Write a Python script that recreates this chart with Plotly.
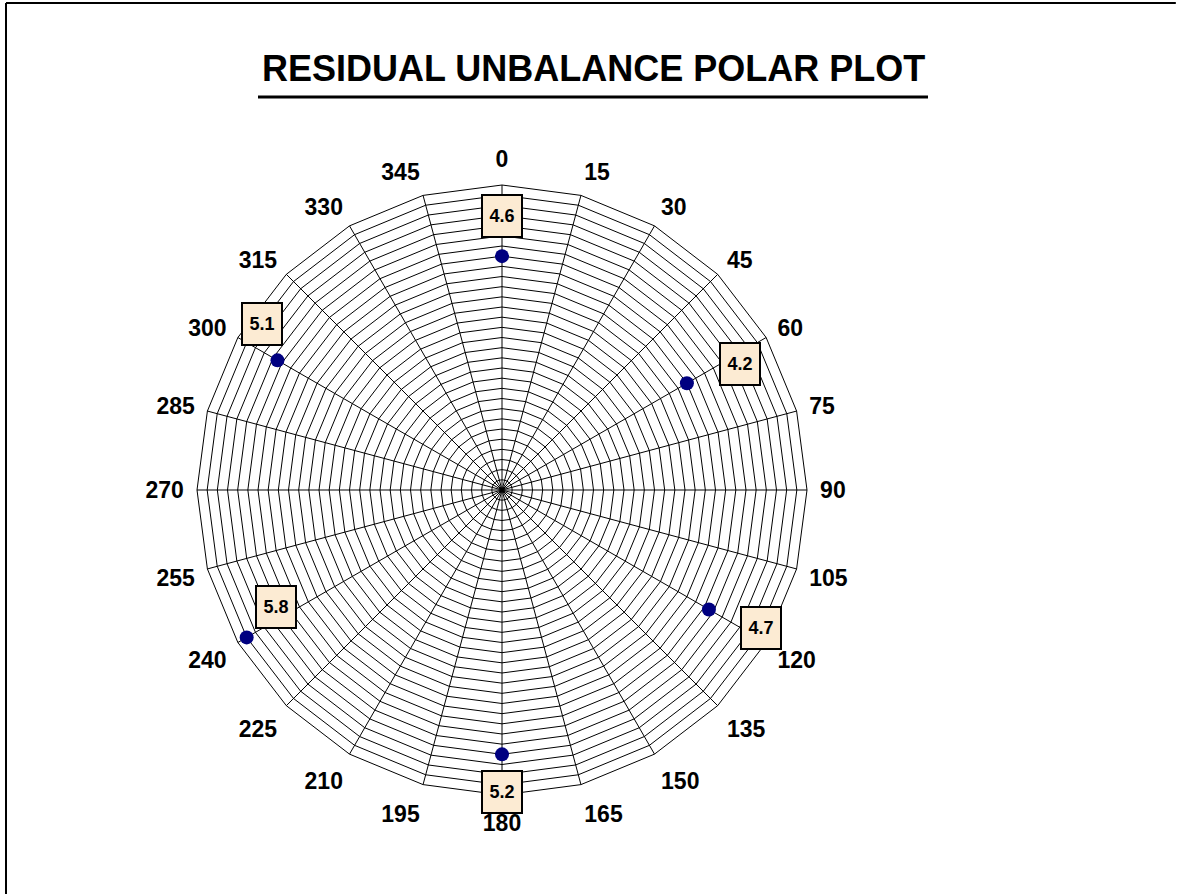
import math
import plotly.graph_objects as go

# ---- data ----
angle_categories = [str(a) for a in range(0, 360, 15)]
point_angles = ["0", "60", "120", "180", "240", "300"]
point_values = [4.6, 4.2, 4.7, 5.2, 5.8, 5.1]
point_labels = ["4.6", "4.2", "4.7", "5.2", "5.8", "5.1"]
radial_max = 6.0
radial_step = 0.2

# ---- layout constants ----
W, H = 1177, 894
CX, CY, R = 502, 490, 305  # polar centre and radius in px
label_dx = [0, 53, 52, 0, 29, -15]
label_dy = [-40, -19, 19, 38, -30, -36]

dom_x = [(CX - R) / W, (CX + R) / W]
dom_y = [(H - CY - R) / H, (H - CY + R) / H]

fig = go.Figure()
# invisible trace to establish all angular categories
fig.add_trace(go.Scatterpolar(r=[0] * len(angle_categories), theta=angle_categories,
                              mode="markers", marker=dict(size=1, opacity=0),
                              hoverinfo="skip", showlegend=False))
fig.add_trace(go.Scatterpolar(r=point_values, theta=point_angles, mode="markers",
                              marker=dict(size=14, color="#000080"),
                              showlegend=False))

annotations = []
n = len(angle_categories)
for th, v, lab, dx, dy in zip(point_angles, point_values, point_labels, label_dx, label_dy):
    idx = angle_categories.index(th)
    ang = math.radians(idx * 360 / n)
    px = CX + v / radial_max * R * math.sin(ang)
    py = CY - v / radial_max * R * math.cos(ang)
    annotations.append(dict(
        x=(px + dx) / W, y=1 - (py + dy) / H, xref="paper", yref="paper",
        text="<b>" + lab + "</b>", showarrow=False,
        font=dict(family="Arial, Liberation Sans", size=18, color="black"),
        bgcolor="#FCEBD3", bordercolor="black", borderwidth=2,
        width=34, height=36, borderpad=2, xanchor="center", yanchor="middle"))

annotations.append(dict(
    x=593 / W, y=1 - 68 / H, xref="paper", yref="paper",
    text="<b>RESIDUAL UNBALANCE POLAR PLOT</b>", showarrow=False,
    font=dict(family="Arial, Liberation Sans", size=36, color="black"),
    xanchor="center", yanchor="middle"))

shapes = [
    # title underline
    dict(type="line", xref="paper", yref="paper", x0=258 / W, x1=928 / W,
         y0=1 - 97 / H, y1=1 - 97 / H, line=dict(color="black", width=3)),
    # outer frame: top and left edges (others fall outside the picture)
    dict(type="line", xref="paper", yref="paper", x0=6 / W, x1=0.999,
         y0=1 - 3 / H, y1=1 - 3 / H, line=dict(color="black", width=2)),
    dict(type="line", xref="paper", yref="paper", x0=6 / W, x1=6 / W,
         y0=0.0, y1=1 - 3 / H, line=dict(color="black", width=2)),
]

fig.update_layout(
    width=W, height=H,
    margin=dict(l=0, r=0, t=0, b=0),
    paper_bgcolor="white",
    annotations=annotations,
    shapes=shapes,
    polar=dict(
        domain=dict(x=dom_x, y=dom_y),
        bgcolor="white",
        gridshape="linear",
        angularaxis=dict(
            type="category", categoryorder="array", categoryarray=angle_categories,
            direction="clockwise", rotation=90,
            showline=True, linecolor="black", linewidth=1,
            showgrid=True, gridcolor="black", gridwidth=1,
            ticks="outside", ticklen=8, tickcolor="rgba(0,0,0,0)",
            tickfont=dict(family="Arial, Liberation Sans", size=23, color="black"),
            tickprefix="<b>", ticksuffix="</b>",
        ),
        radialaxis=dict(
            range=[0, radial_max], dtick=radial_step, tick0=0,
            showline=False, showticklabels=False, ticks="",
            showgrid=True, gridcolor="black", gridwidth=1,
        ),
    ),
)

fig.write_html("out.html", config={"displayModeBar": False})

# remove default page margin so the figure sits at the window origin
with open("out.html", "r", encoding="utf-8") as f:
    html = f.read()
html = html.replace("<head>", "<head><style>html,body{margin:0;padding:0;overflow:hidden;background:white;}</style>", 1)
with open("out.html", "w", encoding="utf-8") as f:
    f.write(html)
